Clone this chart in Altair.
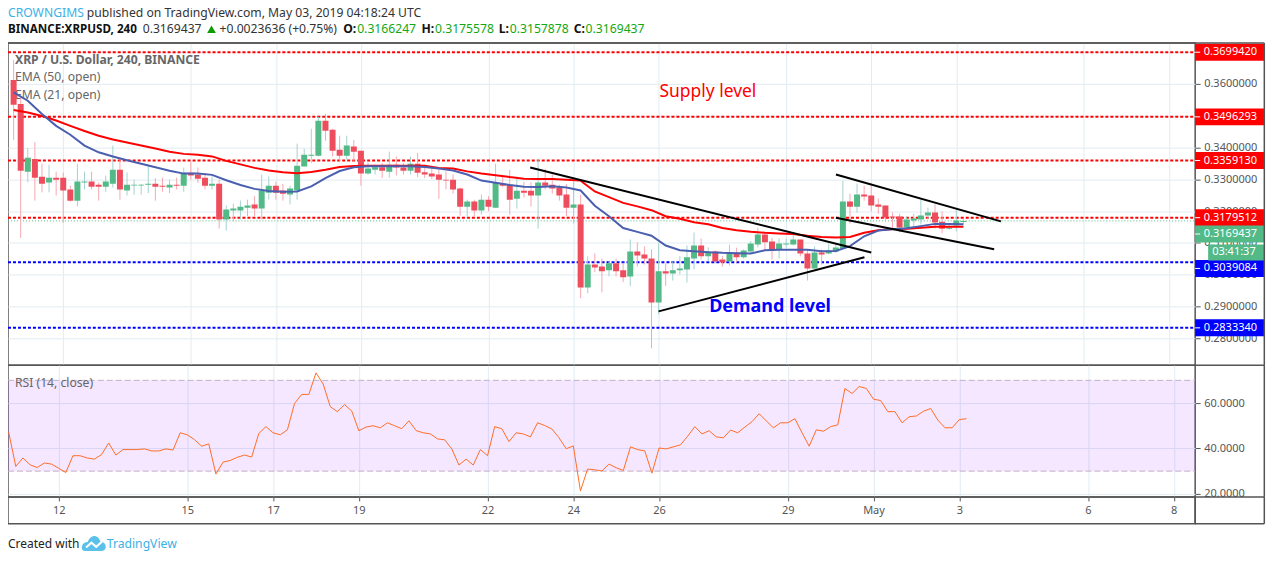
import altair as alt
import pandas as pd

opens = [
.3612,.3537,.3324,.3364,.3308,.3290,.3305,.3305,.3268,.3233,
.3290,.3293,.3283,.3277,.3286,.3330,.3265,.3281,.3281,.3283,
.3286,.3280,.3274,.3283,.3280,.3321,.3315,.3305,.3280,.3286,
.3174,.3202,.3202,.3211,.3221,.3208,.3258,.3280,.3265,.3252,
.3265,.3340,.3374,.3374,.3484,.3456,.3393,.3374,.3403,.3390,
.3318,.3330,.3338,.3324,.3346,.3337,.3327,.3349,
.3322,.3318,.3315,.3299,.3299,.3271,.3214,.3230,.3202,.3236,
.3211,.3286,.3283,.3239,.3264,.3264,.3249,.3290,.3283,.3274,
.3252,.3211,.3221,.2960,.3032,.3026,.3014,.3036,.3014,.2995,
.3073,.3064,.3051,.2913,.3011,.3004,.3014,.3017,.3051,.3092,
.3058,.3073,.3048,.3042,.3070,.3055,.3073,.3095,.3127,.3105,
.3080,.3095,.3095,.3111,.3067,.3020,.3070,.3067,.3073,
.3083,.3230,.3214,.3252,.3249,.3221,.3218,.3183,.3183,.3149,.3171,.3174,.3186,.3196,.3167,.3145,.3155,.3166]
closes = [
.3534,.3327,.3368,.3305,.3286,.3305,.3299,.3265,.3233,.3293,
.3293,.3277,.3277,.3293,.3330,.3268,.3283,.3283,.3283,.3286,
.3277,.3277,.3283,.3280,.3321,.3312,.3302,.3280,.3286,.3174,
.3205,.3208,.3214,.3218,.3208,.3265,.3280,.3258,.3255,.3271,
.3343,.3377,.3377,.3484,.3453,.3390,.3374,.3406,.3387,.3318,
.3334,.3338,.3327,.3346,.3337,.3327,.3349,.3321,
.3315,.3309,.3299,.3296,.3268,.3214,.3230,.3202,.3236,.3214,
.3290,.3280,.3236,.3264,.3258,.3249,.3290,.3280,.3271,.3249,
.3211,.3221,.2960,.3032,.3023,.3011,.3036,.3011,.2992,.3073,
.3061,.3051,.2913,.3011,.3004,.3014,.3020,.3055,.3092,.3058,
.3073,.3042,.3039,.3070,.3055,.3076,.3098,.3127,.3102,.3076,
.3098,.3098,.3111,.3067,.3020,.3070,.3064,.3076,.3086,
.3230,.3214,.3252,.3246,.3218,.3214,.3180,.3180,.3149,.3174,.3177,.3186,.3196,.3164,.3145,.3149,.3171,.3169]
highs = [
.3675,.3560,.3398,.3417,.3349,.3346,.3324,.3321,.3280,.3349,
.3324,.3324,.3290,.3312,.3406,.3362,.3322,.3299,.3286,.3346,
.3304,.3305,.3299,.3305,.3337,.3355,.3337,.3320,.3309,.3299,
.3218,.3224,.3233,.3236,.3247,.3315,.3309,.3293,.3286,.3280,
.3412,.3396,.3459,.3496,.3506,.3459,.3437,.3437,.3424,.3390,
.3353,.3346,.3351,.3387,.3372,.3351,.3372,.3383,
.3346,.3336,.3336,.3325,.3315,.3274,.3236,.3236,.3252,.3247,
.3349,.3315,.3330,.3301,.3292,.3291,.3364,.3333,.3315,.3283,
.3285,.3299,.3252,.3058,.3067,.3051,.3042,.3051,.3038,.3111,
.3102,.3089,.3080,.3100,.3036,.3042,.3059,.3092,.3133,.3114,
.3086,.3076,.3059,.3095,.3085,.3080,.3106,.3148,.3132,.3116,
.3114,.3114,.3133,.3111,.3080,.3089,.3080,.3098,.3100,
.3296,.3255,.3287,.3280,.3287,.3240,.3218,.3196,.3192,.3184,.3192,.3236,.3211,.3221,.3199,.3161,.3210,.3176]
lows = [
.3424,.3116,.3291,.3233,.3259,.3259,.3249,.3163,.3230,.3215,
.3268,.3268,.3233,.3261,.3274,.3236,.3249,.3252,.3252,.3257,
.3233,.3261,.3257,.3268,.3261,.3299,.3289,.3268,.3268,.3145,
.3139,.3167,.3174,.3184,.3184,.3174,.3236,.3236,.3233,.3221,
.3236,.3341,.3351,.3372,.3421,.3372,.3358,.3362,.3357,.3280,
.3315,.3315,.3304,.3305,.3312,.3315,.3315,.3307,
.3304,.3301,.3239,.3268,.3255,.3186,.3181,.3184,.3189,.3200,
.3211,.3275,.3189,.3208,.3243,.3214,.3145,.3268,.3255,.3233,
.3184,.3161,.2926,.2942,.3008,.2945,.2995,.2995,.2977,.2964,
.3026,.3032,.2769,.2876,.2965,.2982,.3001,.2976,.3017,.3048,
.3042,.3036,.3026,.3029,.3039,.3051,.3069,.3086,.3077,.3048,
.3051,.3085,.3092,.3058,.2982,.3017,.3032,.3064,.3069,
.3080,.3161,.3195,.3233,.3199,.3192,.3167,.3142,.3134,.3142,.3142,.3158,.3174,.3145,.3130,.3142,.3136,.3158]

# EMAs, read at every second bar
ema50 = [
.3518,.3510,.3499,.3485,.3468,.3452,.3437,.3425,.3416,.3406,.3397,.3387,.3380,.3377,.3372,
.3358,.3347,.3336,.3328,.3322,.3319,.3323,.3330,.3339,.3342,.3343,.3343,.3343,.3343,
.3343,.3336,.3334,.3325,.3318,.3313,.3307,.3302,.3301,.3301,.3299,.3296,.3262,.3244,.3226,
.3215,.3203,.3184,.3176,.3165,.3159,.3147,.3140,.3135,.3132,.3130,.3128,.3123,.3119,.3117,
.3119,.3132,.3140,.3144,.3145,.3148,.3151,.3151,.3151]
ema21 = [
.3573,.3547,.3505,.3468,.3440,.3406,.3385,.3372,.3360,.3349,.3338,.3327,.3318,.3318,.3314,
.3297,.3282,.3270,.3263,.3261,.3262,.3278,.3304,.3326,.3338,.3341,.3341,.3341,.3341,
.3339,.3334,.3328,.3315,.3296,.3289,.3282,.3277,.3276,.3278,.3274,.3265,.3217,.3184,.3147,
.3135,.3123,.3092,.3077,.3074,.3071,.3069,.3068,.3067,.3077,.3079,.3079,.3079,.3074,.3075,
.3090,.3121,.3139,.3143,.3146,.3153,.3160,.3160,.3159]
rsi = [
47.2,32.1,35.8,32.8,31.6,33.6,33.1,31.3,29.4,36.8,36.8,35.8,35.3,37.3,42.4,37.1,39.5,39.5,39.5,39.8,
38.9,38.9,39.8,39.3,46.9,46.0,43.9,41.0,42.0,28.7,34.0,34.7,36.1,37.1,36.2,46.6,49.6,46.9,46.0,48.2,
59.8,63.8,63.8,73.3,68.4,58.4,56.2,59.3,56.5,47.8,49.4,50.0,49.1,51.3,50.0,48.7,52.2,47.9,46.9,46.4,
44.2,43.8,39.8,32.7,35.3,32.7,39.5,36.8,49.6,48.7,43.0,46.9,46.4,45.1,51.3,50.1,48.6,44.7,39.9,41.1,
21.3,30.9,30.6,30.1,33.1,31.5,30.3,40.7,39.5,
38.9,29.1,40.2,39.8,40.7,41.6,45.4,49.6,46.4,47.8,45.1,44.7,48.1,46.9,49.4,51.8,55.3,52.1,49.1,51.3,
51.3,53.1,46.9,41.0,48.2,47.6,49.6,50.4,66.4,64.2,67.3,66.4,61.7,61.1,56.2,56.2,51.3,54.0,54.3,56.4,
57.6,52.5,49.1,49.1,52.7,53.1]

bar_days = [10 + 5/6 + i/6 for i in range(len(opens))]   # day of April, 4-hour bars
level_values = [0.3699420, 0.3496293, 0.3359130, 0.3179512, 0.3039084, 0.2833340]
level_colors = ["#ff0000", "#ff0000", "#ff0000", "#ff0000", "#0000ff", "#0000ff"]
label_prices = [0.3699420, 0.3496293, 0.3359130, 0.3179512, 0.3020, 0.2833340]   # the 0.3039084 tag sits lower
last_price = 0.3169437
price_ticks = [0.28, 0.29, 0.30, 0.31, 0.32, 0.33, 0.34, 0.35, 0.36, 0.37]
day_ticks = [12, 15, 17, 19, 22, 24, 26, 29, 31, 33, 36, 38]
trend_day = [22.98, 31.00, 26.00, 30.84, 30.17, 34.05, 30.17, 33.89]
trend_price = [.3337, .3070, .2885, .3055, .3315, .3168, .3179, .3080]
trend_id = ["a", "a", "b", "b", "c", "c", "d", "d"]

FONT = "Noto Sans"
W = 1190
R = 1259.3
H_TOP, H_PRICE, H_RSI, H_STRIP, H_FOOT = 35, 323, 132, 27, 25
FRAME = "#555555"
GRID = "#e1ecf2"
RED, GREEN = "#ee4d5e", "#53b987"

x_scale = alt.Scale(domain=[10.8186, 38.5], nice=False, zero=False)
y_scale = alt.Scale(domain=[0.2716, 0.37285], nice=False, zero=False)
r_scale = alt.Scale(domain=[18.67, 76.67], nice=False, zero=False)
one = pd.DataFrame({"k": [0]})

bars = pd.DataFrame({"d": bar_days, "o": opens, "c": closes, "h": highs, "l": lows})
bars["wick"] = ["#a5d2cf" if c >= o else "#f6a8b0" for o, c in zip(opens, closes)]
bars["body"] = [GREEN if c >= o else RED for o, c in zip(opens, closes)]
ema_df = pd.DataFrame({"d": bar_days[::2], "e50": ema50, "e21": ema21})
rsi_df = pd.DataFrame({"d": bar_days, "v": rsi})
lv = pd.DataFrame({"p": level_values, "at": label_prices, "col": level_colors,
                   "txt": [f"{v:.7f}" for v in level_values]})
trend = pd.DataFrame({"d": trend_day, "p": trend_price, "id": trend_id})


def label(text, x, y, size=12.2, color="#333333", weight="normal", align="left", font=FONT):
    return alt.Chart(one).mark_text(text=text, fontSize=size, color=color, fontWeight=weight,
                                    align=align, baseline="middle", font=font, clip=False).encode(
        x=alt.value(x), y=alt.value(y))


def hline(y, x1=W, x2=R):
    return alt.Chart(one).mark_rule(color=FRAME, strokeWidth=1.5, clip=False).encode(
        x=alt.value(x1), x2=alt.value(x2), y=alt.value(y))


def vline(x, h):
    return alt.Chart(one).mark_rule(color=FRAME, strokeWidth=1.5, clip=False).encode(
        x=alt.value(x), y=alt.value(0), y2=alt.value(h))


time_grid = alt.Axis(values=day_ticks, labels=False, ticks=False, domain=False, grid=True,
                     gridColor=GRID, title=None)
price_axis = alt.Axis(orient="right", values=price_ticks, format=".7f", grid=True, gridColor=GRID,
                      domain=False, tickSize=5, tickColor=FRAME, labelColor=FRAME, labelFont=FONT,
                      labelFontSize=11, labelPadding=3.5, title=None)
time_axis = alt.Axis(values=day_ticks, grid=True, gridColor=GRID, domain=False, tickSize=4,
                     tickColor=FRAME, labelColor=FRAME, labelFont=FONT, labelFontSize=11,
                     labelPadding=4, title=None,
                     labelExpr="datum.value == 31 ? 'May' : (datum.value > 31 ? datum.value - 30 : datum.value)")
rsi_axis = alt.Axis(orient="right", values=[20, 40, 60], format=".4f", grid=True, gridColor=GRID,
                    domain=False, tickSize=5, tickColor=FRAME, labelColor=FRAME, labelFont=FONT,
                    labelFontSize=11, labelPadding=3.5, title=None)

X = alt.X("d:Q", scale=x_scale, axis=time_grid)


def Py(field):
    return alt.Y(field, type="quantitative", scale=y_scale, axis=price_axis)


Y = Py("p")
frame_view = alt.ViewConfig(stroke=FRAME, strokeWidth=1.5)
no_view = alt.ViewConfig(stroke=None)

# ---- header
h1 = 4.7
h2 = 21.3
hgreen = "#12a812"
header = alt.layer(
    label("CROWNGIMS", 0, h1, color="#3bb1e6"),
    label("published on TradingView.com, May 03, 2019 04:18:24 UTC", 79, h1),
    label("BINANCE:XRPUSD, 240", 0, h2, size=11.7, color="#111111", weight="bold"),
    label("0.3169437", 135, h2),
    alt.Chart(one).mark_point(shape="triangle-up", filled=True, color="#0a9c00", size=75, opacity=1, clip=False).encode(
        x=alt.value(204), y=alt.value(h2)),
    label("+0.0023636 (+0.75%)", 212, h2),
    label("O:", 336, h2, color="#111111", weight="bold"),
    label("0.3166247", 350, h2, color=hgreen),
    label("H:", 414.5, h2, color="#111111", weight="bold"),
    label("0.3175578", 428, h2, color=hgreen),
    label("L:", 492, h2, color="#111111", weight="bold"),
    label("0.3157878", 503, h2, color=hgreen),
    label("C:", 567, h2, color="#111111", weight="bold"),
    label("0.3169437", 579, h2, color=hgreen),
).properties(width=W, height=H_TOP, view=no_view)

# ---- price panel
levels = alt.Chart(lv).mark_rule(strokeWidth=2, strokeDash=[3, 2]).encode(
    y=Y, x=alt.value(0), x2=alt.value(W), color=alt.Color("col:N", scale=None, legend=None))
last_line = alt.Chart(pd.DataFrame({"p": [last_price]})).mark_rule(
    strokeWidth=1, strokeDash=[1, 2], color=GREEN).encode(y=Y, x=alt.value(0), x2=alt.value(W))
wicks = alt.Chart(bars).mark_rule(strokeWidth=1, clip=True).encode(
    x=X, y=Py("h"), y2="l:Q", color=alt.Color("wick:N", scale=None, legend=None))
bodies = alt.Chart(bars).mark_bar(size=6, clip=True, orient="vertical").encode(
    x=X, y=Py("o"), y2="c:Q", color=alt.Color("body:N", scale=None, legend=None))
line50 = alt.Chart(ema_df).mark_line(color="#ff0000", strokeWidth=2, clip=True).encode(x=X, y=Py("e50"))
line21 = alt.Chart(ema_df).mark_line(color="#4a5fb0", strokeWidth=2, clip=True).encode(x=X, y=Py("e21"))
trends = alt.Chart(trend).mark_line(color="#000000", strokeWidth=2).encode(x=X, y=Y, detail="id:N")

boxes = alt.Chart(lv).mark_rect(yOffset=-8.5, y2Offset=8.5, clip=False).encode(
    x=alt.value(W), x2=alt.value(R), y=Py("at"), y2="at:Q",
    color=alt.Color("col:N", scale=None, legend=None))
box_ticks = alt.Chart(lv).mark_rule(color="#ffffff", clip=False).encode(
    x=alt.value(W), x2=alt.value(W + 5), y=Py("at"))
box_text = alt.Chart(lv).mark_text(align="left", baseline="middle", font=FONT,
                                   fontSize=11, clip=False).encode(
    x=alt.value(W + 8.7), y=Py("at"), text="txt:N", color=alt.value("#ffffff"))

supply = alt.Chart(pd.DataFrame({"d": [26.02], "p": [.3575], "t": ["Supply level"]})).mark_text(
    align="left", baseline="middle", color="#ff0000", font=FONT, fontSize=17.5).encode(x=X, y=Y, text="t:N")
demand = alt.Chart(pd.DataFrame({"d": [27.19], "p": [.2900], "t": ["Demand level"]})).mark_text(
    align="left", baseline="middle", color="#0000ff", font=FONT, fontSize=18, fontWeight="bold").encode(x=X, y=Y, text="t:N")

price = alt.layer(
    label("XRP / U.S. Dollar, 240, BINANCE", 7, 17, color="#666666", weight="bold"),
    label("EMA (50, open)", 7, 34.5, color="#666666"),
    label("EMA (21, open)", 7, 52, color="#666666"),
    levels, last_line, wicks, bodies, line50, line21, trends,
    boxes, box_ticks, box_text,
    alt.Chart(one).mark_rect(color=GREEN, clip=False).encode(
        x=alt.value(W), x2=alt.value(R), y=alt.value(183), y2=alt.value(200)),
    alt.Chart(one).mark_rule(color="#ffffff", clip=False).encode(
        x=alt.value(W), x2=alt.value(W + 5), y=alt.value(191.5)),
    label("0.3169437", W + 8.7, 191.5, size=11, color="#ffffff"),
    alt.Chart(one).mark_rect(color=GREEN, clip=False).encode(
        x=alt.value(W + 13), x2=alt.value(R), y=alt.value(202), y2=alt.value(218)),
    label("03:41:37", W + 17, 209.5, size=11, color="#ffffff"),
    supply, demand,
    hline(0, 0, R), vline(R, H_PRICE),
).properties(width=W, height=H_PRICE, view=frame_view)

# ---- RSI panel
RX = alt.X("d:Q", scale=x_scale, axis=time_axis)
R_Y = alt.Y("v:Q", scale=r_scale, axis=rsi_axis)
band = alt.Chart(pd.DataFrame({"v": [70], "b": [30]})).mark_rect(color="#9915ff", opacity=0.1).encode(
    x=alt.value(0), x2=alt.value(W), y=R_Y, y2="b:Q")
band_lines = alt.Chart(pd.DataFrame({"v": [70, 30]})).mark_rule(
    color="#c3b1c6", strokeWidth=1, strokeDash=[6, 3]).encode(y=R_Y, x=alt.value(0), x2=alt.value(W))
rsi_line = alt.Chart(rsi_df).mark_line(color="#ff6d26", strokeWidth=1, clip=True).encode(x=RX, y=R_Y)

rsi_panel = alt.layer(
    band, band_lines,
    label("RSI (14, close)", 7, 18, color="#666666"),
    rsi_line,
    hline(0), hline(H_RSI), vline(R, H_RSI),
).properties(width=W, height=H_RSI, view=frame_view)

# ---- strip below the time axis
strip = alt.layer(
    vline(W, H_STRIP), vline(R, H_STRIP), hline(H_STRIP),
).properties(width=W, height=H_STRIP, view=frame_view)

# ---- footer
logo_fill = ("M-1,0.4 C-1,0 -0.7,-0.1 -0.5,-0.1 C-0.4,-0.5 0,-0.7 0.25,-0.55 C0.45,-0.45 0.5,-0.3 0.55,-0.15 "
             "C0.8,-0.15 1,0.05 1,0.3 C1,0.55 0.8,0.65 0.6,0.65 L-0.7,0.65 C-0.9,0.65 -1,0.55 -1,0.4 Z")
logo_line = "M-0.65,0.35 L-0.2,-0.05 L0.2,0.3 L0.7,-0.15"
footer = alt.layer(
    label("Created with", 0, 20.5, size=12, color="#222222"),
    alt.Chart(one).mark_point(shape=logo_fill, filled=True, color="#5cc1ea", size=576, opacity=1, clip=False).encode(
        x=alt.value(86), y=alt.value(19.5)),
    alt.Chart(one).mark_point(shape=logo_line, filled=False, color="#ffffff", size=576, opacity=1,
                              strokeWidth=2, clip=False).encode(x=alt.value(86), y=alt.value(19.5)),
    label("TradingView", 99, 20.5, size=12.2, color="#3bb1e6"),
).properties(width=W, height=H_FOOT, view=no_view)

chart = alt.vconcat(header, price, rsi_panel, strip, footer, spacing=0, bounds="flush").properties(
    padding={"left": -2, "top": -2.6, "right": 0, "bottom": 0},
).configure_view(stroke=None)

chart.save("out.html", embed_options={"renderer": "svg", "actions": False})
